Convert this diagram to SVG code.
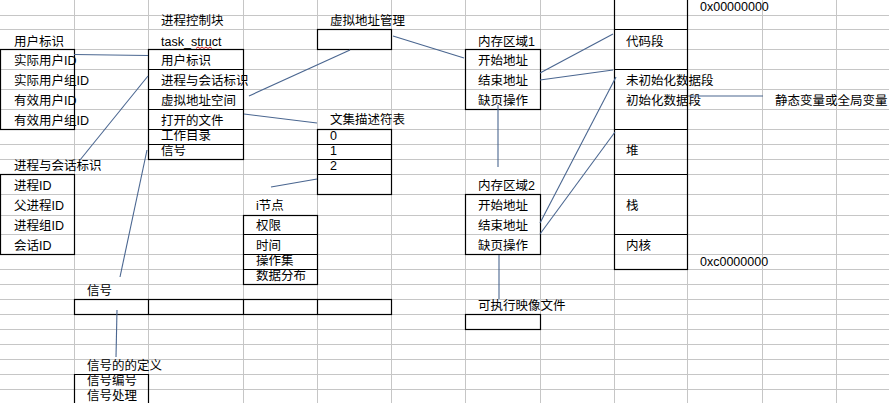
<svg xmlns="http://www.w3.org/2000/svg" width="889" height="403" viewBox="0 0 889 403">
<style>
.g{stroke:#c6c6c6;stroke-width:1;fill:none}
.b{stroke:#000;stroke-width:1.2;fill:none}
.c{stroke:#4a6690;stroke-width:1.1;fill:none}
text{font-family:"Liberation Sans","Noto Sans CJK SC",sans-serif;font-size:12.5px;fill:#000}
</style>
<rect width="889" height="403" fill="#fff"/>
<g id="grid">
<path class="g" d="M74.5 0V403M148.5 0V403M243.5 0V403M317.5 0V403M391.5 0V403M465.5 0V403M540.5 0V403M614.5 0V403M687.5 0V403M762.5 0V403M836.5 0V403"/>
<path class="g" d="M0 15.5H889M0 29.5H889M0 49.5H889M0 69.5H889M0 89.5H889M0 109.5H889M0 129.5H889M0 144.5H889M0 159.5H889M0 174.5H889M0 194.5H889M0 215.5H889M0 234.5H889M0 254.5H889M0 269.5H889M0 284.5H889M0 299.5H889M0 314.5H889M0 329.5H889M0 344.5H889M0 359.5H889M0 374.5H889M0 389.5H889"/>
</g>
<g id="user-id">
<rect class="b" x="0.5" y="49.5" width="74" height="80"/>
<text x="14" y="46">用户标识</text><text x="14" y="65">实际用户ID</text><text x="14" y="85">实际用户组ID</text><text x="14" y="105">有效用户ID</text><text x="14" y="125">有效用户组ID</text>
</g>
<g id="proc-id">
<rect class="b" x="0.5" y="174.5" width="74" height="80"/>
<text x="14" y="170">进程与会话标识</text><text x="14" y="190">进程ID</text><text x="14" y="210">父进程ID</text><text x="14" y="230">进程组ID</text><text x="14" y="250">会话ID</text>
</g>
<g id="task-struct">
<rect class="b" x="148.5" y="49.5" width="95" height="110"/>
<path class="b" d="M148 69.5H243M148 89.5H243M148 109.5H243M148 129.5H243M148 144.5H243"/>
<path d="M196 48.5l2 -1.5 2 1.5 2 -1.5 2 1.5 2 -1.5 2 1.5 2 -1.5 2 1.5" stroke="#d02020" stroke-width="1" fill="none"/>
<text x="161" y="25">进程控制块</text><text x="161" y="46">task_struct</text><text x="161" y="65">用户标识</text><text x="161" y="85">进程与会话标识</text><text x="161" y="105">虚拟地址空间</text><text x="161" y="125">打开的文件</text><text x="161" y="140">工作目录</text><text x="161" y="155">信号</text>
</g>
<g id="vm">
<rect class="b" x="317.5" y="29.5" width="74" height="20"/>
<text x="330" y="25">虚拟地址管理</text>
</g>
<g id="fd">
<rect class="b" x="317.5" y="129.5" width="74" height="65"/>
<path class="b" d="M317 144.5H391M317 159.5H391M317 174.5H391"/>
<text x="330" y="124">文集描述符表</text><text x="330" y="140">0</text><text x="330" y="155">1</text><text x="330" y="170">2</text>
</g>
<g id="inode">
<rect class="b" x="243.5" y="215.5" width="74" height="69"/>
<path class="b" d="M243 234.5H317M243 254.5H317M243 269.5H317"/>
<text x="256" y="210">i节点</text><text x="256" y="230">权限</text><text x="256" y="250">时间</text><text x="256" y="265">操作集</text><text x="256" y="280">数据分布</text>
</g>
<g id="signal">
<rect class="b" x="74.5" y="299.5" width="317" height="15"/>
<path class="b" d="M148.5 299V314M243.5 299V314M317.5 299V314"/>
<text x="87" y="295">信号</text>
</g>
<g id="sigdef">
<path class="b" d="M74.5 403V374.5H148.5V403"/>
<text x="87" y="370">信号的的定义</text><text x="87" y="385">信号编号</text><text x="87" y="400">信号处理</text>
</g>
<g id="mem1">
<rect class="b" x="465.5" y="49.5" width="75" height="60"/>
<text x="478" y="46">内存区域1</text><text x="478" y="65">开始地址</text><text x="478" y="85">结束地址</text><text x="478" y="105">缺页操作</text>
</g>
<g id="mem2">
<rect class="b" x="465.5" y="194.5" width="75" height="60"/>
<text x="478" y="190">内存区域2</text><text x="478" y="210">开始地址</text><text x="478" y="230">结束地址</text><text x="478" y="250">缺页操作</text>
</g>
<g id="exe">
<rect class="b" x="465.5" y="314.5" width="75" height="15"/>
<text x="478" y="310">可执行映像文件</text>
</g>
<g id="memmap">
<rect class="b" x="614.5" y="-1" width="73" height="270.5"/>
<path class="b" d="M614 29.5H687M614 69.5H687M614 129.5H687M614 174.5H687M614 234.5H687"/>
<text x="626" y="46">代码段</text><text x="626" y="85">未初始化数据段</text><text x="626" y="105">初始化数据段</text><text x="626" y="155">堆</text><text x="626" y="210">栈</text><text x="626" y="250">内核</text>
<text x="700" y="11">0x00000000</text><text x="700" y="266">0xc0000000</text>
<text x="775" y="105">静态变量或全局变量</text>
</g>
<g id="connectors">
<path class="c" d="M74 54.5L148 55.5"/>
<path class="c" d="M148 76L80 160"/>
<path class="c" d="M147 150L120 277"/>
<path class="c" d="M249 96L350 50"/>
<path class="c" d="M393 36L464 58"/>
<path class="c" d="M244 114L317 123"/>
<path class="c" d="M271 187L317 179"/>
<path class="c" d="M117 310L116 357"/>
<path class="c" d="M540 73L613 34"/>
<path class="c" d="M540 80L613 70"/>
<path class="c" d="M498 105V167"/>
<path class="c" d="M540 223L616 77"/>
<path class="c" d="M540 234L615 132"/>
<path class="c" d="M688 96H763"/>
<path class="c" d="M499 255V299"/>
</g>
</svg>
